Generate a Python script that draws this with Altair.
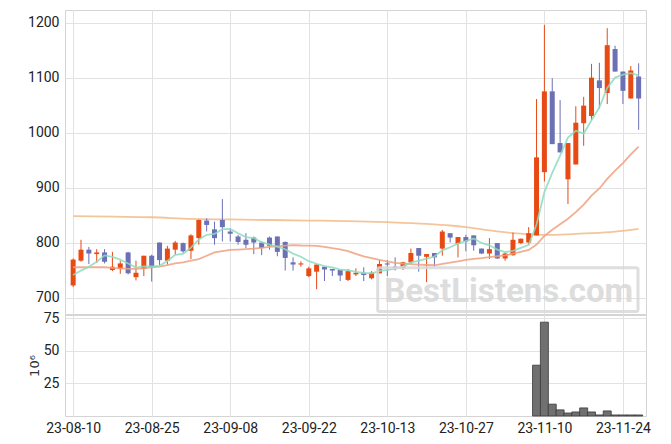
import altair as alt
import pandas as pd

dates = ["2023-08-10", "2023-08-11", "2023-08-14", "2023-08-16", "2023-08-17", "2023-08-18",
         "2023-08-21", "2023-08-22", "2023-08-23", "2023-08-24", "2023-08-25", "2023-08-28",
         "2023-08-29", "2023-08-30", "2023-08-31", "2023-09-01", "2023-09-04", "2023-09-05",
         "2023-09-06", "2023-09-07", "2023-09-08", "2023-09-11", "2023-09-12", "2023-09-13",
         "2023-09-14", "2023-09-15", "2023-09-18", "2023-09-19", "2023-09-20", "2023-09-21",
         "2023-09-22", "2023-09-25", "2023-09-26", "2023-09-27", "2023-10-04", "2023-10-05",
         "2023-10-06", "2023-10-10", "2023-10-11", "2023-10-12", "2023-10-13", "2023-10-16",
         "2023-10-17", "2023-10-18", "2023-10-19", "2023-10-20", "2023-10-23", "2023-10-24",
         "2023-10-25", "2023-10-26", "2023-10-27", "2023-10-30", "2023-10-31", "2023-11-01",
         "2023-11-02", "2023-11-03", "2023-11-06", "2023-11-07", "2023-11-08", "2023-11-09",
         "2023-11-10", "2023-11-13", "2023-11-14", "2023-11-15", "2023-11-16", "2023-11-17",
         "2023-11-20", "2023-11-21", "2023-11-22", "2023-11-23", "2023-11-24", "2023-11-27",
         "2023-11-28"]

opens = [722, 767, 787, 779, 782, 750, 752, 782, 737, 752, 776, 800, 767, 787, 799, 785, 808, 840,
         824, 841, 820, 811, 805, 809, 800, 809, 811, 801, 764, 760, 739, 747, 756, 752, 750, 732,
         742, 745, 735, 744, 762, 756, 753, 764, 790, 774, 781, 789, 817, 798, 810, 813, 789, 780,
         799, 771, 777, 799, 800, 813, 928, 1075, 981, 915, 942, 1017, 1030, 1095, 1072, 1152,
         1111, 1062, 1102]
highs = [771, 805, 792, 788, 788, 783, 767, 783, 767, 776, 778, 800, 794, 803, 800, 815, 842, 844,
         838, 879, 826, 814, 817, 811, 802, 811, 811, 802, 773, 766, 756, 760, 756, 752, 750, 752,
         753, 755, 748, 768, 768, 773, 765, 789, 790, 779, 781, 823, 817, 810, 814, 813, 789, 808,
         799, 782, 818, 807, 828, 1061, 1196, 1099, 1059, 981, 1048, 1065, 1125, 1127, 1190, 1158,
         1111, 1121, 1126]
lows = [719, 765, 761, 763, 762, 748, 743, 742, 731, 739, 729, 759, 760, 778, 781, 770, 796, 820,
        796, 802, 802, 796, 790, 779, 777, 787, 775, 749, 749, 756, 737, 715, 730, 739, 730, 730,
        739, 730, 733, 744, 739, 749, 750, 761, 747, 728, 756, 776, 800, 773, 784, 785, 779, 770,
        770, 767, 776, 797, 796, 813, 911, 979, 964, 870, 942, 976, 1023, 1044, 1052, 1111, 1052,
        1062, 1005]
closes = [769, 787, 780, 782, 765, 756, 762, 744, 745, 776, 755, 768, 789, 800, 784, 813, 841, 832,
          808, 828, 816, 801, 796, 800, 790, 794, 783, 772, 760, 762, 753, 760, 751, 749, 740, 748,
          745, 741, 745, 761, 760, 753, 764, 781, 776, 779, 773, 820, 809, 810, 802, 795, 780, 788,
          771, 780, 805, 807, 817, 955, 1075, 979, 964, 981, 1018, 1049, 1100, 1081, 1159, 1111,
          1076, 1113, 1062]
volumes = [0] * 59 + [39, 72, 9.1, 4.7, 2.3, 3.1, 6.2, 3.1, 0.8, 3.9, 0.8, 0.8, 0.8, 0.8]

ma5_head = [741, 749, 756, 765]
ma20_head = [755, 755, 755, 755, 755, 754, 753, 752, 752, 753, 755, 756, 759, 762, 764, 767,
             770, 776, 782]
ma120_idx = [0, 5, 10, 15, 20, 25, 30, 35, 40, 45, 48, 50, 53, 56, 58, 60, 63, 66, 69, 72]
ma120_val = [848, 847, 846, 843, 842, 841, 840, 839, 837, 834, 831, 828, 822, 817, 815, 814, 815,
             817, 820, 825]

tick_idx = [0, 10, 20, 30, 40, 50, 60, 70]
tick_labels = ["23-08-10", "23-08-25", "23-09-08", "23-09-22", "23-10-13", "23-10-27",
               "23-11-10", "23-11-24"]

UP = "#E84A14"
DOWN = "#6C70B5"
FONT = "Roboto"

n = len(dates)
ma5 = [ma5_head[i] if i < 4 else sum(closes[i - 4:i + 1]) / 5 for i in range(n)]
ma20 = [ma20_head[i] if i < 19 else sum(closes[i - 19:i + 1]) / 20 for i in range(n)]

df = pd.DataFrame({
    "idx": list(range(n)), "date": dates, "open": opens, "high": highs, "low": lows,
    "close": closes, "vol": volumes, "ma5": ma5, "ma20": ma20,
})
df["dir"] = ["up" if c >= o else "down" for o, c in zip(opens, closes)]
ma120_df = pd.DataFrame({"idx": ma120_idx, "ma120": ma120_val})
wm_df = pd.DataFrame({"t": ["BestListens.com"]})

label_expr = ""
for i, l in zip(tick_idx, tick_labels):
    label_expr += f"datum.value == {i} ? '{l}' : "
label_expr += "''"

xscale = alt.Scale(domain=[-0.4, 72.3], nice=False, zero=False)
x_main = alt.X("idx:Q", scale=xscale, title=None,
               axis=alt.Axis(values=tick_idx, labels=False, ticks=False, domain=False, grid=True,
                             minExtent=0, maxExtent=0, labelPadding=0, tickSize=0))
yscale = alt.Scale(domain=[670, 1223], nice=False, zero=False)
y_axis = alt.Axis(values=[700, 800, 900, 1000, 1100, 1200], format="d", ticks=False,
                  domain=False, labelPadding=6, grid=True)
color = alt.Color("dir:N", scale=alt.Scale(domain=["up", "down"], range=[UP, DOWN]), legend=None)

base = alt.Chart(df)
wicks = base.mark_rule(strokeWidth=1).encode(
    x=x_main, y=alt.Y("low:Q", scale=yscale, axis=y_axis, title=None), y2="high:Q", color=color)
bodies = base.mark_bar(size=5).encode(
    x=x_main, y=alt.Y("open:Q", scale=yscale, title=None), y2="close:Q", color=color)
l120 = alt.Chart(ma120_df).mark_line(color="#F2BB8A", strokeWidth=1.8, opacity=0.85,
                                      interpolate="monotone").encode(
    x=x_main, y=alt.Y("ma120:Q", scale=yscale, title=None))
l20 = base.mark_line(color="#F0A080", strokeWidth=1.8, opacity=0.85).encode(
    x=x_main, y=alt.Y("ma20:Q", scale=yscale, title=None))
l5 = base.mark_line(color="#8DDBBF", strokeWidth=1.8, opacity=0.85).encode(
    x=x_main, y=alt.Y("ma5:Q", scale=yscale, title=None))

wm_box = alt.Chart(wm_df).mark_rect(fill=None, stroke="#D8D8D8", strokeWidth=3, opacity=0.85,
                                    cornerRadius=2).encode(
    x=alt.value(312.7), x2=alt.value(573), y=alt.value(257.7), y2=alt.value(301.4))
wm_text = alt.Chart(wm_df).mark_text(font=FONT, fontSize=33, fontWeight="bold", color="#D8D8D8",
                                     opacity=0.85, align="center", baseline="alphabetic").encode(
    x=alt.value(443.7), y=alt.value(292.4), text="t:N")

main = alt.layer(l120, wicks, bodies, l20, l5, wm_box, wm_text).properties(width=581, height=304)

vol = alt.Chart(df).transform_filter("datum.vol > 0").mark_bar(
    size=8, fill="#707070", stroke="#3A3A3A", strokeWidth=0.8).encode(
    x=alt.X("idx:Q", scale=xscale, title=None,
            axis=alt.Axis(values=tick_idx, labelExpr=label_expr, ticks=False, domain=False,
                          grid=True, labelPadding=5, labelFlush=False)),
    y=alt.Y("vol:Q", scale=alt.Scale(domain=[0, 77.5], nice=False),
            axis=alt.Axis(values=[25, 50, 75], ticks=False, domain=False, labelPadding=6,
                          grid=True, title="10⁶", titleFont="DejaVu Sans", titleFontSize=13,
                          titleFontWeight="normal", titleColor="#333333", titlePadding=2)),
).properties(width=581, height=101)

chart = alt.vconcat(main, vol, spacing=-5).properties(
    padding={"left": 27, "top": 9, "right": 10, "bottom": 5}
).configure_view(stroke="#D4D4D4").configure_axis(
    labelFont=FONT, labelFontSize=14, labelColor="#222222", gridColor="#E2E2E2"
)

chart.save("out.html", embed_options={"renderer": "svg", "actions": False})
